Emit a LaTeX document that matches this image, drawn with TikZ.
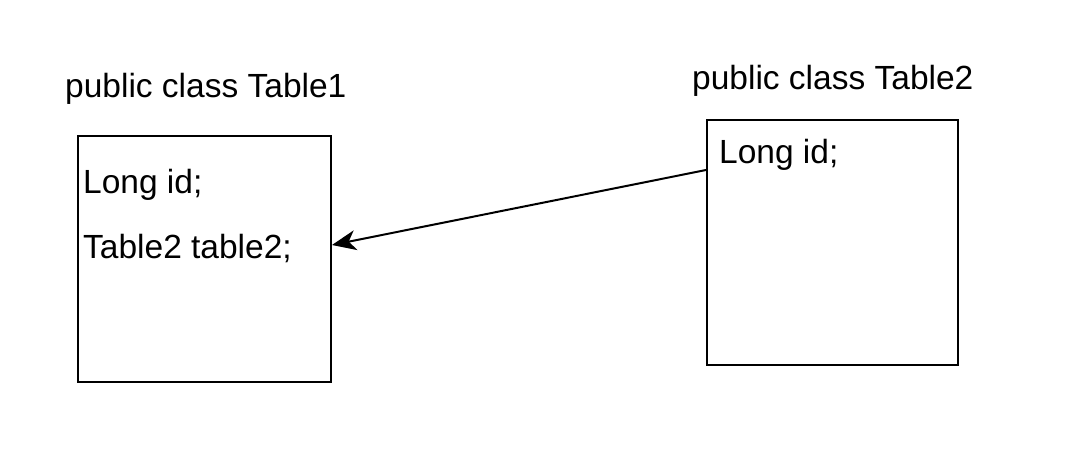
\documentclass[tikz,border=0pt]{standalone}
\usepackage{fontspec}
\setmainfont{Liberation Sans}
\usetikzlibrary{arrows.meta}
\begin{document}
\begin{tikzpicture}[x=1pt,y=-1pt,
  box/.style={draw=black,line width=2pt,fill=white,inner sep=0pt,minimum width=253pt,minimum height=246pt},
  lbl/.style={anchor=base west,inner sep=0pt,font=\fontsize{33.5}{40}\selectfont},
  link/.style={draw=black,line width=2pt,-{Stealth[length=24pt,width=20pt,inset=7pt]}}]
\useasboundingbox (0,0) rectangle (1086,458);
\node[box] (t1) at (204.5,259) {};
\node[box,minimum width=251pt,minimum height=245pt] (t2) at (832.5,242.5) {};
\node[lbl] (h1) at (65,97) {public class Table1};
\node[lbl] (h2) at (692,89) {public class Table2};
\node[lbl] (a1) at (83,193) {Long id;};
\node[lbl] (a2) at (83,258) {Table2 table2;};
\node[lbl] (b1) at (719,163) {Long id;};
\draw[link] ([yshift=72.5pt]t2.west) -- ([yshift=14pt]t1.east);
\end{tikzpicture}
\end{document}
